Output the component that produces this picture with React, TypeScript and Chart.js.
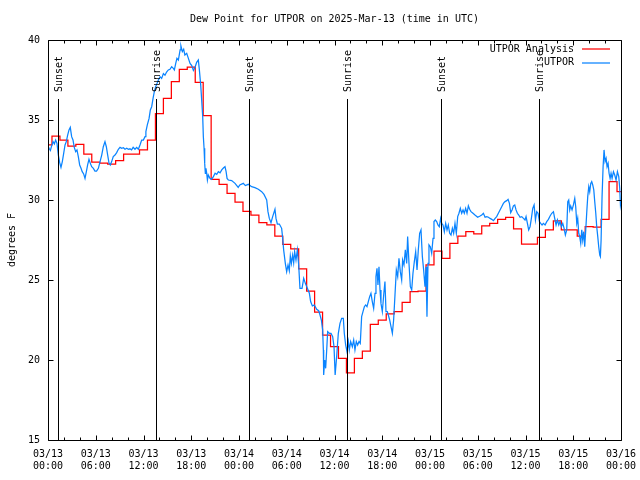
import React, { useEffect, useRef } from "react";
import { Chart, registerables } from "chart.js";

Chart.register(...registerables);

// ---------- data ----------
const titleText = "Dew Point for UTPOR on 2025-Mar-13 (time in UTC)";
const yAxisTitle = "degrees F";
const seriesNames = ["UTPOR Analysis", "UTPOR"];

// hours since 03/13 00:00 UTC, ticks every 6 h
const tickDates = ["03/13", "03/13", "03/13", "03/13", "03/14", "03/14", "03/14", "03/14", "03/15", "03/15", "03/15", "03/15", "03/16"];
const tickTimes = ["00:00", "06:00", "12:00", "18:00", "00:00", "06:00", "12:00", "18:00", "00:00", "06:00", "12:00", "18:00", "00:00"];

// Sunset / Sunrise events (hours since start)
const sunEventHours = [1.3, 13.57, 25.3, 37.61, 49.43, 61.74];
const sunEventNames = ["Sunset", "Sunrise", "Sunset", "Sunrise", "Sunset", "Sunrise"];

// hourly analysis values (hour 0 .. 72)
const analysisHours = [
  0, 1, 2, 3, 4, 5, 6, 7, 8, 9, 10, 11, 12, 13, 14, 15, 16, 17, 18, 19, 20, 21, 22, 23, 24,
  25, 26, 27, 28, 29, 30, 31, 32, 33, 34, 35, 36, 37, 38, 39, 40, 41, 42, 43, 44, 45, 46, 47, 48,
  49, 50, 51, 52, 53, 54, 55, 56, 57, 58, 59, 60, 61, 62, 63, 64, 65, 66, 67, 68, 69, 70, 71, 72,
];
const analysisDewPoint = [
  33.44, 34.0, 33.75, 33.37, 33.48, 32.86, 32.36, 32.3, 32.25, 32.46, 32.86, 32.86, 33.13, 33.75,
  35.4, 36.35, 37.4, 38.17, 38.3, 37.35, 35.27, 31.29, 30.98, 30.42, 29.86,
  29.29, 29.06, 28.58, 28.44, 27.75, 27.23, 26.94, 25.69, 24.31, 23.0, 21.56, 20.83, 20.1, 19.2,
  20.1, 20.55, 22.23, 22.5, 22.88, 23.02, 23.6, 24.27, 24.31, 25.94,
  26.81, 26.35, 27.29, 27.75, 28.02, 27.88, 28.38, 28.54, 28.79, 28.92, 28.19, 27.25, 27.25, 27.67,
  28.13, 28.69, 28.13, 28.13, 27.75, 28.33, 28.3, 28.79, 31.15, 30.52,
];

// station observations
const obsHours = [
  0.0, 0.13, 0.3, 0.46, 0.63, 0.8, 0.96, 1.13, 1.3, 1.47, 1.63, 1.8, 1.97, 2.14, 2.3, 2.47, 2.64, 2.8, 2.97, 3.14,
  3.3, 3.48, 3.64, 3.81, 3.98, 4.15, 4.3, 4.48, 4.65, 4.82, 4.98, 5.15, 5.32, 5.49, 5.7, 5.9, 6.1, 6.33, 6.54, 6.75,
  6.95, 7.16, 7.33, 7.5, 7.67, 7.83, 8.0, 8.2, 8.42, 8.63, 8.84, 9.05, 9.26, 9.47, 9.68, 9.89, 10.1, 10.3, 10.5, 10.7,
  10.93, 11.14, 11.35, 11.56, 11.77, 11.98, 12.19, 12.3, 12.48, 12.7, 12.86, 13.03, 13.2, 13.36, 13.53, 13.7, 13.87, 14.08, 14.28, 14.5,
  14.7, 14.9, 15.12, 15.33, 15.54, 15.75, 15.88, 16.05, 16.2, 16.38, 16.6, 16.7, 16.88, 17.05, 17.2, 17.43, 17.64, 17.85, 18.06, 18.27,
  18.48, 18.68, 18.89, 19.02, 19.19, 19.31, 19.44, 19.52, 19.61, 19.69, 19.77, 19.85, 19.94, 20.03, 20.14, 20.35, 20.56, 20.78, 21.0, 21.2,
  21.41, 21.62, 21.83, 22.04, 22.24, 22.38, 22.5, 22.66, 23.08, 23.5, 23.9, 24.1, 24.54, 24.8, 25.17, 25.59, 26.0, 26.43, 26.85, 27.14,
  27.48, 27.64, 27.81, 28.02, 28.23, 28.52, 28.65, 28.82, 29.07, 29.36, 29.49, 29.61, 29.82, 29.99, 30.16, 30.32, 30.45, 30.58, 30.74, 30.87,
  30.99, 31.16, 31.33, 31.5, 31.66, 31.92, 32.13, 32.34, 32.59, 32.84, 33.0, 33.22, 33.47, 33.76, 34.01, 34.18, 34.35, 34.51, 34.6, 34.64,
  34.77, 34.89, 35.02, 35.14, 35.35, 35.56, 35.77, 35.94, 36.08, 36.27, 36.48, 36.69, 36.9, 37.11, 37.23, 37.4, 37.57, 37.74, 37.86, 38.03,
  38.24, 38.41, 38.57, 38.74, 38.91, 39.08, 39.24, 39.41, 39.58, 39.75, 39.91, 40.08, 40.25, 40.42, 40.58, 40.75, 40.92, 41.09, 41.21, 41.34,
  41.46, 41.59, 41.72, 41.84, 42.01, 42.18, 42.34, 42.47, 42.64, 42.76, 42.93, 43.1, 43.27, 43.43, 43.6, 43.77, 43.94, 44.1, 44.27, 44.44,
  44.56, 44.73, 44.9, 45.07, 45.19, 45.36, 45.53, 45.7, 45.86, 46.03, 46.2, 46.37, 46.53, 46.7, 46.87, 47.04, 47.2, 47.37, 47.5, 47.62,
  47.75, 47.87, 48.04, 48.21, 48.38, 48.5, 48.67, 48.84, 49.0, 49.17, 49.34, 49.47, 49.63, 49.8, 49.97, 50.14, 50.3, 50.47, 50.64, 50.81,
  50.97, 51.14, 51.31, 51.48, 51.64, 51.81, 51.98, 52.15, 52.31, 52.48, 52.65, 52.82, 52.98, 53.15, 53.4, 53.65, 53.99, 54.29, 54.5, 54.71,
  54.92, 55.13, 55.34, 55.55, 55.76, 55.97, 56.18, 56.38, 56.59, 56.8, 57.01, 57.22, 57.43, 57.64, 57.81, 57.98, 58.14, 58.31, 58.48, 58.65,
  58.81, 58.98, 59.15, 59.32, 59.53, 59.74, 59.94, 60.07, 60.24, 60.4, 60.57, 60.74, 60.91, 61.08, 61.25, 61.41, 61.58, 61.75, 61.91, 62.08,
  62.25, 62.46, 62.67, 62.88, 63.09, 63.3, 63.51, 63.67, 63.84, 64.01, 64.18, 64.34, 64.51, 64.68, 64.85, 65.01, 65.18, 65.31, 65.43, 65.56,
  65.68, 65.85, 66.02, 66.19, 66.31, 66.44, 66.56, 66.69, 66.81, 66.94, 67.07, 67.19, 67.32, 67.44, 67.57, 67.7, 67.82, 67.95, 68.07, 68.2,
  68.32, 68.45, 68.58, 68.7, 68.83, 68.95, 69.08, 69.2, 69.33, 69.41, 69.5, 69.62, 69.75, 69.87, 70.0, 70.13, 70.25, 70.38, 70.5, 70.63,
  70.75, 70.88, 71.05, 71.21, 71.38, 71.55, 71.72, 71.84, 71.93, 72.0,
];
const obsDewPoint = [
  33.38, 33.23, 33.1, 33.38, 33.65, 33.5, 33.75, 33.54, 32.81, 32.33, 32.04, 32.4, 32.92, 33.44, 33.65, 34.06, 34.38, 34.54, 33.96, 33.75,
  33.29, 33.02, 33.13, 32.71, 32.19, 31.98, 31.77, 31.63, 31.35, 31.77, 32.19, 32.54, 32.29, 32.08, 31.98, 31.81, 31.81, 31.98, 32.4, 32.81,
  33.33, 33.65, 33.33, 32.81, 32.29, 32.19, 32.4, 32.71, 32.81, 32.96, 33.17, 33.29, 33.23, 33.27, 33.17, 33.23, 33.17, 33.2, 33.13, 33.29,
  33.17, 33.29, 33.17, 33.44, 33.75, 33.75, 33.96, 34.27, 34.69, 35.1, 35.63, 35.83, 36.35, 36.77, 37.08, 37.29, 37.5, 37.7, 37.6, 37.9,
  37.8, 38.0, 38.13, 38.17, 38.33, 38.23, 38.13, 38.54, 38.85, 38.75, 39.38, 39.63, 39.27, 39.42, 39.06, 39.17, 38.85, 38.54, 38.4, 38.1,
  38.3, 38.6, 38.75, 38.13, 37.19, 36.25, 35.21, 33.96, 33.23, 32.29, 31.67, 31.98, 31.67, 31.25, 31.56, 31.35, 31.29, 31.46, 31.67, 31.6,
  31.77, 31.7, 31.88, 32.0, 32.08, 31.77, 31.35, 31.25, 31.21, 31.04, 30.79, 30.94, 31.04, 30.9, 30.98, 30.83, 30.77, 30.67, 30.52, 30.35,
  30.0, 29.27, 28.85, 28.58, 28.96, 29.42, 28.85, 28.5, 28.5, 28.23, 27.6, 26.88, 26.04, 25.52, 25.94, 25.58, 26.5, 26.04, 26.56, 26.08,
  26.77, 26.25, 26.88, 25.94, 24.48, 24.48, 25.1, 24.79, 24.48, 24.17, 23.65, 23.38, 23.44, 23.17, 23.08, 22.81, 22.5, 21.88, 20.63, 19.06,
  20.0, 19.48, 20.63, 21.77, 21.67, 21.67, 21.46, 20.83, 19.06, 20.21, 21.67, 22.29, 22.6, 22.6, 21.67, 20.94, 20.52, 21.15, 20.63, 21.15,
  20.83, 21.25, 20.63, 21.15, 20.94, 21.15, 21.04, 22.71, 23.02, 23.33, 23.44, 23.33, 23.65, 23.96, 24.17, 23.65, 23.23, 24.17, 25.21, 25.73,
  24.69, 25.83, 24.38, 23.54, 23.02, 24.06, 24.9, 23.02, 23.02, 22.81, 22.5, 22.08, 21.67, 22.5, 24.06, 25.63, 25.21, 26.35, 25.52, 25.0,
  26.25, 25.94, 26.88, 26.04, 27.71, 26.04, 24.58, 24.38, 25.42, 26.15, 26.77, 25.63, 26.88, 27.92, 28.13, 26.46, 25.63, 24.58, 25.83, 22.71,
  26.04, 27.19, 27.08, 26.67, 27.6, 28.65, 28.75, 28.65, 28.44, 28.33, 28.85, 28.54, 28.44, 28.02, 28.54, 28.13, 28.44, 27.92, 27.81, 28.23,
  27.92, 28.54, 27.92, 28.96, 29.17, 29.48, 29.17, 29.38, 29.17, 29.48, 29.17, 29.63, 29.42, 29.27, 29.17, 29.06, 28.92, 29.0, 29.06, 29.17,
  28.92, 28.96, 28.92, 28.85, 28.79, 28.71, 28.85, 28.96, 29.17, 29.38, 29.58, 29.79, 29.9, 29.96, 30.04, 29.79, 29.21, 29.38, 29.63, 29.69,
  29.38, 29.17, 29.06, 28.92, 28.96, 28.85, 28.75, 28.96, 28.54, 28.13, 28.33, 28.85, 29.48, 29.69, 28.75, 29.27, 29.17, 28.65, 28.54, 28.44,
  28.54, 28.44, 28.65, 28.79, 29.0, 29.17, 29.27, 28.85, 28.44, 28.75, 28.44, 28.65, 28.33, 28.54, 28.23, 27.81, 28.13, 29.9, 30.0, 29.38,
  29.63, 29.38, 29.69, 30.1, 29.58, 28.54, 28.85, 27.92, 27.71, 27.29, 28.13, 27.5, 28.02, 27.08, 28.13, 29.27, 30.21, 30.83, 30.52, 31.04,
  31.15, 30.94, 30.63, 29.9, 29.17, 28.33, 27.71, 27.08, 26.56, 26.46, 27.5, 30.21, 32.08, 33.13, 32.4, 32.6, 32.08, 32.29, 31.67, 31.35,
  31.67, 31.35, 31.77, 31.56, 31.25, 31.77, 31.46, 30.73, 29.69, 29.9,
];

const FONT = "'DejaVu Sans Mono', 'Liberation Mono', monospace";
const RED = "#ff0000";
const BLUE = "#0a84ff";
const keyColors = [RED, BLUE];

const gnuplotFrame = {
  id: "gnuplotFrame",
  afterDatasetsDraw(chart: any) {
    const { ctx, chartArea } = chart;
    const xs = chart.scales.x;
    ctx.save();
    // sunrise / sunset markers
    ctx.strokeStyle = "#000";
    ctx.lineWidth = 1;
    ctx.fillStyle = "#000";
    ctx.font = `10px ${FONT}`;
    sunEventHours.forEach((h, i) => {
      const px = Math.round(xs.getPixelForValue(h)) + 0.5;
      ctx.beginPath();
      ctx.moveTo(px, chartArea.top + 59);
      ctx.lineTo(px, chartArea.bottom);
      ctx.stroke();
      ctx.save();
      ctx.translate(px + 0.5, chartArea.top + 52);
      ctx.rotate(-Math.PI / 2);
      ctx.textAlign = "left";
      ctx.textBaseline = "middle";
      ctx.fillText(sunEventNames[i], 0, 0);
      ctx.restore();
    });
    // key (legend)
    chart.data.datasets.forEach((ds: any, i: number) => {
      const y = chartArea.top + 9 + i * 13.5;
      ctx.textAlign = "right";
      ctx.textBaseline = "middle";
      ctx.fillStyle = "#000";
      ctx.fillText(ds.label, chartArea.right - 47, y);
      ctx.strokeStyle = keyColors[i];
      ctx.lineWidth = 1.25;
      ctx.beginPath();
      ctx.moveTo(chartArea.right - 39, Math.round(y));
      ctx.lineTo(chartArea.right - 11, Math.round(y));
      ctx.stroke();
    });
    ctx.restore();
  },
  afterDraw(chart: any) {
    const { ctx, chartArea } = chart;
    const xs = chart.scales.x;
    const ys = chart.scales.y;
    ctx.save();
    ctx.strokeStyle = "#000";
    ctx.lineWidth = 1;
    const L = chartArea.left + 0.5;
    const R = chartArea.right + 0.5;
    const T = chartArea.top + 0.5;
    const B = chartArea.bottom + 0.5;
    ctx.beginPath();
    ctx.rect(L, T, R - L, B - T);
    // x ticks (bottom and mirrored at top)
    xs.ticks.forEach((t: any) => {
      const px = Math.round(xs.getPixelForValue(t.value)) + 0.5;
      const len = t.value % 6 === 0 ? 5 : 3;
      ctx.moveTo(px, B);
      ctx.lineTo(px, B - len);
      ctx.moveTo(px, T);
      ctx.lineTo(px, T + len);
    });
    // y ticks (left and mirrored at right)
    ys.ticks.forEach((t: any) => {
      const py = Math.round(ys.getPixelForValue(t.value)) + 0.5;
      ctx.moveTo(L, py);
      ctx.lineTo(L + 5, py);
      ctx.moveTo(R, py);
      ctx.lineTo(R - 5, py);
    });
    ctx.stroke();
    ctx.restore();
  },
};

export default function App() {
  const ref = useRef<HTMLCanvasElement | null>(null);
  useEffect(() => {
    if (!ref.current) return;
    Chart.defaults.font.family = FONT;
    Chart.defaults.font.size = 10;
    Chart.defaults.color = "#000";
    const chart = new Chart(ref.current, {
      type: "line",
      data: {
        datasets: [
          {
            label: seriesNames[0],
            data: analysisHours.map((h, i) => ({ x: h, y: analysisDewPoint[i] })),
            borderColor: RED,
            borderWidth: 1.25,
            pointRadius: 0,
            stepped: "middle",
            order: 1,
          },
          {
            label: seriesNames[1],
            data: obsHours.map((h, i) => ({ x: h, y: obsDewPoint[i] })),
            borderColor: BLUE,
            borderWidth: 1.25,
            pointRadius: 0,
            tension: 0,
            order: 0,
          },
        ],
      },
      options: {
        responsive: false,
        animation: false,
        events: [],
        layout: { padding: { top: 0, right: 19, bottom: 0, left: 0 } },
        plugins: {
          legend: { display: false },
          tooltip: { enabled: false },
          title: {
            display: true,
            text: titleText,
            fullSize: false,
            color: "#000",
            font: { family: FONT, size: 10, weight: "normal", lineHeight: 1.2 },
            padding: { top: 13, bottom: 15 },
          },
        },
        scales: {
          x: {
            type: "linear",
            min: 0,
            max: 72,
            grid: { display: false, drawTicks: false },
            border: { display: false },
            ticks: {
              stepSize: 2,
              autoSkip: false,
              maxRotation: 0,
              minRotation: 0,
              padding: 8,
              color: "#000",
              font: { family: FONT, size: 10, lineHeight: 1.2 },
              callback: (v: any) => {
                const n = Number(v);
                if (n % 6 !== 0) return "";
                const i = n / 6;
                return [tickDates[i], tickTimes[i]];
              },
            },
            afterFit: (s: any) => {
              s.height = 40;
              s.paddingLeft = 0;
              s.paddingRight = 0;
            },
          },
          y: {
            min: 15,
            max: 40,
            grid: { display: false, drawTicks: false },
            border: { display: false },
            ticks: { stepSize: 5, padding: 8, color: "#000", font: { family: FONT, size: 10 } },
            title: {
              display: true,
              text: yAxisTitle,
              color: "#000",
              font: { family: FONT, size: 10, lineHeight: 1.2 },
              padding: { top: 6, bottom: 0 },
            },
            afterFit: (s: any) => {
              s.width = 48;
              s.paddingTop = 0;
              s.paddingBottom = 0;
            },
          },
        },
      },
      plugins: [gnuplotFrame],
    });
    return () => chart.destroy();
  }, []);
  return (
    <div style={{ position: "absolute", left: 0, top: 0, width: 640, height: 480, background: "#fff" }}>
      <canvas ref={ref} width={640} height={480} style={{ display: "block" }} />
    </div>
  );
}
